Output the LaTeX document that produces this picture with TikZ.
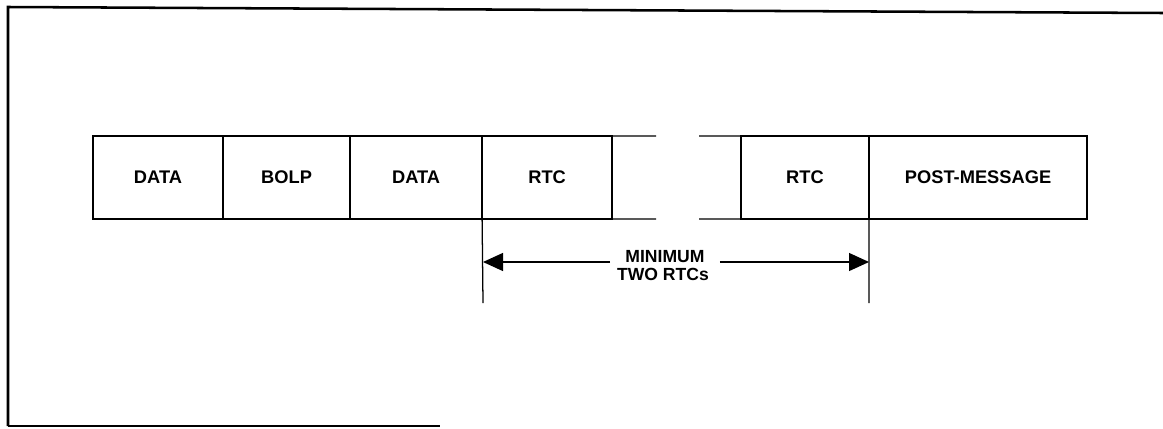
\documentclass[tikz,border=0pt]{standalone}
\usepackage{fontspec}
\setmainfont{Liberation Sans}
\usetikzlibrary{arrows.meta, positioning}

\begin{document}
\begin{tikzpicture}[x=0.025cm, y=-0.025cm,
  fld/.style={rectangle, draw, line width=1pt, minimum height=2.075cm,
    inner sep=0pt, outer sep=0pt, font=\bfseries\fontsize{13}{15}\selectfont},
  lbl/.style={inner ysep=0pt, inner xsep=0.375cm,
    font=\bfseries\fontsize{12.5}{14}\selectfont},
  dimarr/.style={-{Triangle[length=0.5cm,width=0.45cm]}, line width=0.9pt},
]
\useasboundingbox (0,0) rectangle (1163,428);
%% Frame
\draw[line width=1.8pt] (1163,13) -- (8,7) -- (8,426);
\draw[line width=1pt] (8,426) -- (440,426);
%% Message fields
\node[fld, minimum width=3.25cm, anchor=west] (D1) at (93,177.5) {DATA};
\node[fld, minimum width=3.175cm, right=0pt of D1] (BOLP) {BOLP};
\node[fld, minimum width=3.3cm, right=0pt of BOLP] (D2) {DATA};
\node[fld, minimum width=3.25cm, right=0pt of D2] (R1) {RTC};
\node[fld, minimum width=3.2cm, anchor=west] (R2) at (741,177.5) {RTC};
\node[fld, minimum width=5.45cm, right=0pt of R2] (POST) {POST-MESSAGE};
%% Open part between the RTCs
\coordinate (gapNL) at (656,136);
\coordinate (gapSL) at (656,219);
\coordinate (gapNR) at (699,136);
\coordinate (gapSR) at (699,219);
\draw[line width=1pt] (R1.north east) -- (gapNL);
\draw[line width=1pt] (R1.south east) -- (gapSL);
\draw[line width=1pt] (gapNR) -- (R2.north west);
\draw[line width=1pt] (gapSR) -- (R2.south west);
%% Extension lines
\coordinate (extL) at (483,303);
\coordinate (extR) at (869,303);
\draw[line width=0.9pt] (R1.south west) -- (extL);
\draw[line width=0.9pt] (R2.south east) -- (extR);
%% Dimension
\node[lbl, anchor=base] (mintxt) at (665,262) {MINIMUM};
\node[lbl, anchor=base] (twotxt) at (663,280) {TWO RTCs};
\draw[dimarr] (mintxt.base west) -- (mintxt.base west -| extL);
\draw[dimarr] (mintxt.base east) -- (mintxt.base east -| extR);
\end{tikzpicture}
\end{document}
